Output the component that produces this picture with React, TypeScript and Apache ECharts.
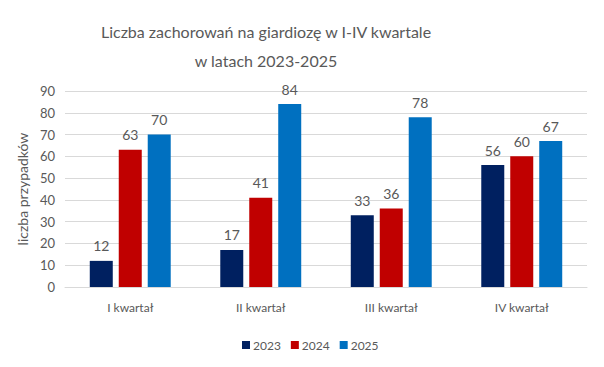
import React, { useEffect, useRef } from "react";
import * as echarts from "echarts";

const categories = ["I kwartał", "II kwartał", "III kwartał", "IV kwartał"];
const seriesNames = ["2023", "2024", "2025"];
const values2023 = [12, 17, 33, 56];
const values2024 = [63, 41, 36, 60];
const values2025 = [70, 84, 78, 67];
const colors = ["#002060", "#C00000", "#0070C0"];

export default function App() {
  const ref = useRef<HTMLDivElement>(null);
  useEffect(() => {
    if (!ref.current) return;
    const chart = echarts.init(ref.current, null, { renderer: "svg" });
    const font = "Lato, 'Open Sans', sans-serif";
    const data = [values2023, values2024, values2025];
    chart.setOption({
      animation: false,
      backgroundColor: "#ffffff",
      textStyle: { fontFamily: font },
      title: {
        text: "Liczba zachorowań na giardiozę w I-IV kwartale\nw latach 2023-2025",
        left: 261,
        textAlign: "center",
        top: 12,
        textStyle: {
          fontFamily: font,
          fontSize: 16,
          fontWeight: "normal",
          color: "#595959",
          lineHeight: 29,
        },
      },
      legend: {
        data: seriesNames,
        left: 237,
        top: 334,
        itemWidth: 8,
        itemHeight: 8,
        itemGap: 10,
        icon: "rect",
        textStyle: { fontFamily: font, fontSize: 12, color: "#595959", padding: [0, 0, 0, -2] },
      },
      grid: { left: 65, right: 17, top: 91, bottom: 80 },
      xAxis: {
        type: "category",
        data: categories,
        axisLine: { lineStyle: { color: "#D9D9D9" } },
        axisTick: { show: false },
        axisLabel: { color: "#595959", fontSize: 12, fontFamily: font, margin: 14 },
      },
      yAxis: {
        type: "value",
        min: 0,
        max: 90,
        interval: 10,
        name: "liczba przypadków",
        nameLocation: "middle",
        nameGap: 26,
        nameTextStyle: { color: "#595959", fontSize: 14, fontFamily: font },
        axisLine: { show: false },
        axisTick: { show: false },
        axisLabel: { color: "#595959", fontSize: 13, fontFamily: font, margin: 10 },
        splitLine: { lineStyle: { color: "#D9D9D9", width: 1 } },
      },
      series: seriesNames.map((name, i) => ({
        name,
        type: "bar",
        data: data[i],
        barWidth: 23,
        barGap: "26%",
        itemStyle: { color: colors[i] },
        label: {
          show: true,
          position: "top",
          distance: 8,
          color: "#595959",
          fontSize: 14,
          fontFamily: font,
        },
      })),
    });
    return () => chart.dispose();
  }, []);
  return (
    <div
      ref={ref}
      style={{ position: "fixed", left: 0, top: 0, width: 604, height: 367 }}
    />
  );
}
